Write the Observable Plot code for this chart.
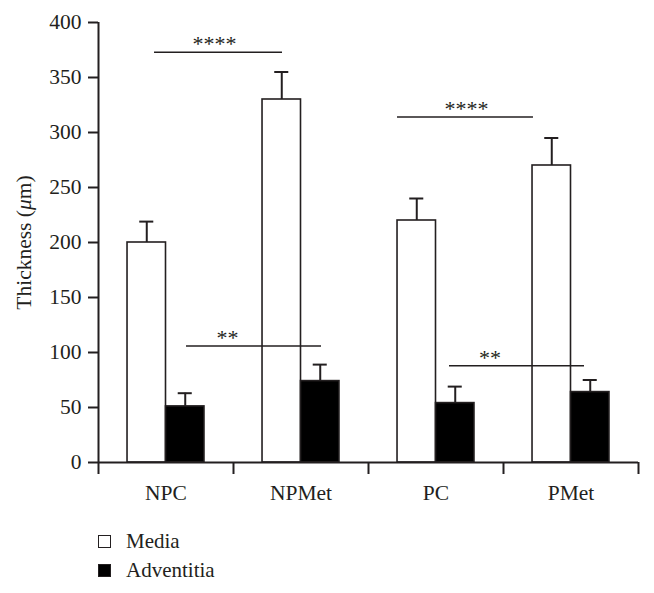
<!DOCTYPE html>
<html><head><meta charset="utf-8">
<script src="https://cdn.jsdelivr.net/npm/d3@7"></script>
<script src="https://cdn.jsdelivr.net/npm/@observablehq/plot@0.6"></script>
<style>
body{margin:0;background:#fff;font-family:"Liberation Serif","DejaVu Serif",serif;color:#231f20;}
#legend{margin-left:98px;margin-top:12px;font-size:21px;line-height:29px;}
.item{display:flex;align-items:center;}
.sw{width:13px;height:13px;border:1.5px solid #231f20;margin-right:15px;box-sizing:border-box;}
svg text{font-family:"Liberation Serif",serif;}
.big text{font-size:21.5px !important;}
.stars text{font-size:22px !important;}
</style></head><body>
<div id="chart"></div>
<div id="legend"></div>
<script>
const groups = ["NPC", "NPMet", "PC", "PMet"];
const series = ["Media", "Adventitia"];
const seriesFill = ["#ffffff", "#000000"];
const mediaMean = [200, 330, 220, 270];
const mediaErr = [19, 25, 20, 25];
const adventitiaMean = [51, 74, 54, 64];
const adventitiaErr = [12, 15, 15, 11];
const yTicks = [0, 50, 100, 150, 200, 250, 300, 350, 400];
const sigLabel = ["****", "****", "**", "**"];
const sigY = [373, 314, 106, 88];
const sigFrom = [0.415, 2.215, 0.652, 2.6];
const sigTo = [1.363, 3.222, 1.652, 3.6];
const sigLabelX = [0.86, 2.725, 0.955, 2.9];

// layout within each group slot (group i spans [i, i+1])
const slotOffset = [0.215, 0.5];
const barW = 0.285;
const capHalf = 0.052;

const bars = [];
groups.forEach((g, i) => {
  [mediaMean, adventitiaMean].forEach((arr, s) => {
    const err = s === 0 ? mediaErr[i] : adventitiaErr[i];
    const x1 = i + slotOffset[s];
    bars.push({group: g, series: series[s], fill: seriesFill[s], mean: arr[i], err, x1, x2: x1 + barW, xc: x1 + barW / 2});
  });
});
const sigs = sigLabel.map((l, k) => ({label: l, y: sigY[k], x1: sigFrom[k], x2: sigTo[k], xm: sigLabelX[k]}));
const ink = "#231f20";

const chart = Plot.plot({
  width: 654,
  height: 515,
  marginLeft: 98,
  marginRight: 16,
  marginTop: 22,
  marginBottom: 53,
  style: {fontFamily: "'Liberation Serif', serif", color: ink, background: "#fff"},
  x: {domain: [0, groups.length], axis: null},
  y: {domain: [0, 400], axis: null},
  marks: [
    Plot.ruleX(bars, {x: "xc", y1: "mean", y2: d => d.mean + d.err, stroke: ink, strokeWidth: 2}),
    Plot.ruleY(bars, {y: d => d.mean + d.err, x1: d => d.xc - capHalf, x2: d => d.xc + capHalf, stroke: ink, strokeWidth: 2}),
    Plot.rectY(bars, {x1: "x1", x2: "x2", y1: 0, y2: "mean", fill: "fill", stroke: ink, strokeWidth: 1.6}),
    Plot.ruleY(sigs, {y: "y", x1: "x1", x2: "x2", stroke: ink, strokeWidth: 1.5}),
    Plot.text(sigs, {x: "xm", y: "y", text: "label", dy: -8, fill: ink, letterSpacing: "4px", className: "stars"}),
    Plot.axisY({ticks: yTicks, tickSize: 10, tickPadding: 7, stroke: ink, strokeWidth: 2, strokeOpacity: 1, fill: ink, label: null, className: "big"}),
    Plot.axisX({ticks: d3.range(groups.length + 1), tickSize: 12, tickFormat: () => "", stroke: ink, strokeWidth: 2, strokeOpacity: 1, label: null}),
    Plot.axisX({ticks: groups.map((g, i) => i + 0.5), tickSize: 0, tickPadding: 22, tickFormat: t => groups[Math.floor(t)], fill: ink, label: null, className: "big"}),
    Plot.ruleX([0], {stroke: ink, strokeWidth: 2}),
    Plot.ruleY([0], {stroke: ink, strokeWidth: 2}),
    Plot.text(["Thickness (μm)"], {frameAnchor: "left", textAnchor: "middle", dx: -74, rotate: -90, text: d => d, fill: ink, className: "big"})
  ]
});
document.getElementById("chart").appendChild(chart);
// italic mu
chart.querySelectorAll("text").forEach(t => {
  if (t.textContent === "Thickness (μm)") {
    t.textContent = "";
    const a = document.createElementNS("http://www.w3.org/2000/svg", "tspan"); a.textContent = "Thickness (";
    const b = document.createElementNS("http://www.w3.org/2000/svg", "tspan"); b.textContent = "μ"; b.setAttribute("font-style", "italic");
    const c = document.createElementNS("http://www.w3.org/2000/svg", "tspan"); c.textContent = "m)";
    t.append(a, b, c);
  }
});
const leg = document.getElementById("legend");
series.forEach((s, k) => {
  const it = document.createElement("div"); it.className = "item";
  const sw = document.createElement("span"); sw.className = "sw"; sw.style.background = seriesFill[k];
  const lb = document.createElement("span"); lb.textContent = s;
  it.append(sw, lb); leg.append(it);
});
</script>
</body></html>
